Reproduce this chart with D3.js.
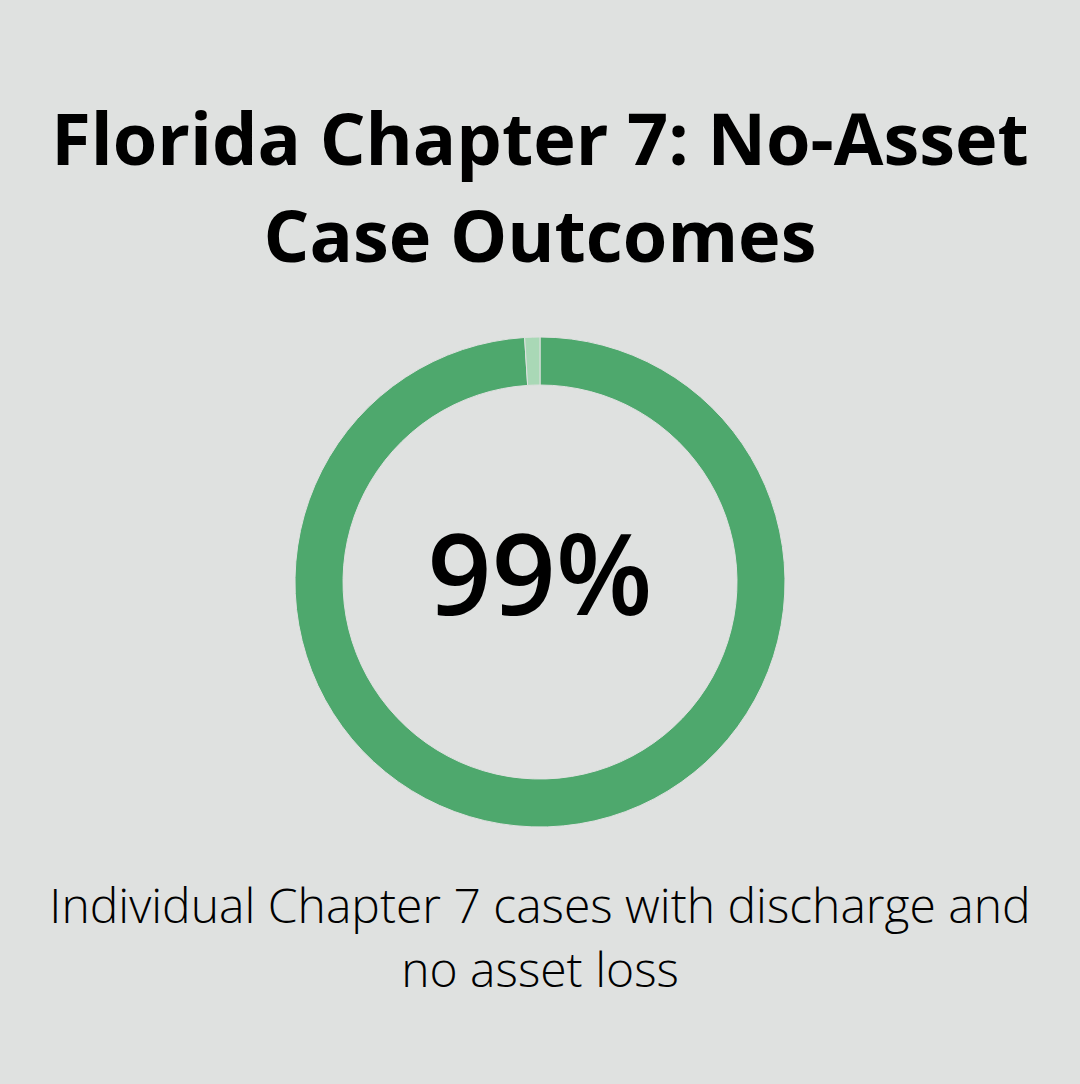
<!DOCTYPE html>
<html><head><meta charset="utf-8">
<script src="https://cdn.jsdelivr.net/npm/d3@7"></script>
<style>html,body{margin:0;padding:0;background:#dfe1e0;}</style>
</head><body>
<svg id="c" width="1080" height="1084"></svg>
<script>
const titleLines = ["Florida Chapter 7: No-Asset", "Case Outcomes"];
const categories = ["Discharge, no asset loss", "Other"];
const values = [99, 1];
const centerLabel = "99%";
const captionLines = ["Individual Chapter 7 cases with discharge and", "no asset loss"];
const colors = ["#4ea86d", "#a9d8b6"];

const svg = d3.select("#c");
svg.append("rect").attr("width",1080).attr("height",1084).attr("fill","#dfe1e0");

const title = svg.append("g");
titleLines.forEach((t,i)=>{
  title.append("text").attr("x",540).attr("y",165+i*97).attr("text-anchor","middle")
    .attr("font-family","'Open Sans'").attr("font-weight",700).attr("font-size",72)
    .attr("fill","#000").text(t);
});

const cx=540, cy=582, rOut=245, rIn=197;
const pie = d3.pie().sort(null).value(d=>d);
const arc = d3.arc().innerRadius(rIn).outerRadius(rOut);
const g = svg.append("g").attr("transform",`translate(${cx},${cy})`);
g.selectAll("path").data(pie(values)).join("path")
  .attr("d",arc).attr("fill",(d,i)=>colors[i])
  .attr("stroke","#dfe1e0").attr("stroke-width",1);

g.append("text").attr("x",0).attr("y",33).attr("text-anchor","middle")
  .attr("font-family","'Open Sans'").attr("font-weight",600).attr("font-size",112)
  .attr("fill","#000").text(centerLabel);

captionLines.forEach((t,i)=>{
  svg.append("text").attr("x",540).attr("y",923+i*64).attr("text-anchor","middle")
    .attr("font-family","'Open Sans'").attr("font-weight",300).attr("font-size",48)
    .attr("fill","#000").text(t);
});
</script>
</body></html>
